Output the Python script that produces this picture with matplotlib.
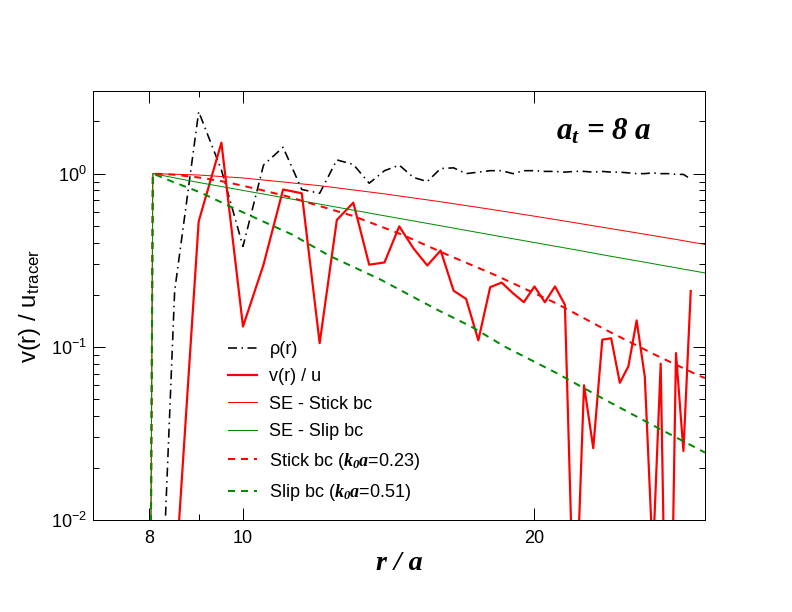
import numpy as np
import matplotlib
matplotlib.use('Agg')
from matplotlib import pyplot as plt
from matplotlib.ticker import FixedLocator, FixedFormatter, NullFormatter, LogLocator

plt.rcParams['font.family'] = ['Liberation Sans', 'DejaVu Sans']
plt.rcParams['mathtext.fontset'] = 'custom'
plt.rcParams['mathtext.it'] = 'Liberation Serif:italic:bold'
plt.rcParams['mathtext.rm'] = 'Liberation Serif:italic:bold'
plt.rcParams['mathtext.bf'] = 'Liberation Serif:bold'
plt.rcParams['lines.scale_dashes'] = False

# simulation data, r / a
r = [8.0, 8.5, 9.0, 9.5, 10.0, 10.5, 11.0, 11.5, 12.0, 12.5, 13.0, 13.5, 14.0, 14.5,
     15.0, 15.5, 16.0, 16.5, 17.0, 17.5, 18.0, 18.5, 19.0, 19.5, 20.0, 20.5, 21.0,
     21.5, 22.0, 22.5, 23.0, 23.5, 24.0, 24.5, 25.0, 25.5, 26.0, 26.5, 27.0, 27.5,
     28.0, 28.5, 29.0]
rho = [5e-5, 0.21, 2.28, 1.05, 0.38, 1.12, 1.42, 0.81, 0.77, 1.20, 1.13, 0.88, 1.04, 1.12,
       0.95, 0.90, 1.07, 1.08, 1.00, 1.02, 1.04, 1.04, 1.00, 1.04, 1.04, 1.03, 1.03,
       1.02, 1.03, 1.03, 1.02, 1.03, 1.02, 1.02, 1.01, 1.00, 1.00, 1.01, 1.00, 1.00,
       0.99, 0.99, 0.93]
v_u = [1e-4, 0.004, 0.53, 1.51, 0.131, 0.298, 0.81, 0.77, 0.105, 0.54, 0.68, 0.298, 0.307, 0.496,
       0.37, 0.295, 0.36, 0.211, 0.189, 0.109, 0.221, 0.235, 0.204, 0.181, 0.223, 0.181, 0.223,
       0.175, 0.0018, 0.060, 0.026, 0.11, 0.112, 0.062, 0.077, 0.142, 0.067, 0.006, 0.08, 0.0002,
       0.092, 0.025, 0.21]

# Stokes-Einstein curves
r_se = [8.0, 8.07, 9, 10, 12, 14, 16, 18, 20, 22, 24, 26, 28, 30]
se_stick = [1e-4, 1.0, 0.982, 0.944, 0.852, 0.764, 0.688, 0.623, 0.568, 0.521, 0.481, 0.447, 0.417, 0.39]
se_slip = [1e-4, 1.0, 0.889, 0.8, 0.667, 0.571, 0.5, 0.444, 0.4, 0.364, 0.333, 0.308, 0.286, 0.267]

# screened fits
r_stick = [8.0, 8.07, 8.47, 9.03, 9.62, 10.43, 11.1, 13.0, 14.59, 16.24, 18.15, 21.03, 23.65, 26.64, 29.6, 30]
fit_stick = [1e-4, 1.0, 0.987, 0.948, 0.893, 0.806, 0.74, 0.569, 0.445, 0.341, 0.262, 0.179, 0.126, 0.090, 0.068, 0.066]
r_slip = [8.0, 8.07, 8.45, 9.03, 9.62, 10.58, 11.23, 12.3, 13.86, 15.86, 17.2, 18.65, 21.03, 23.65, 26.64, 29.6, 30]
fit_slip = [1e-4, 1.0, 0.90, 0.78, 0.66, 0.518, 0.446, 0.334, 0.245, 0.164, 0.131, 0.10, 0.071, 0.0495, 0.0347, 0.0255, 0.0245]

red = '#ff0000'
green = '#008c00'

fig = plt.figure(figsize=(11, 8.5), dpi=72)
ax = fig.add_axes([93/792, 92/612, 612/792, 429/612])

ax.plot(r, rho, color='black', lw=1.6, dashes=(9, 4.5, 1.5, 4.5), label='ρ(r)')
ax.plot(r, v_u, color=red, lw=2.2, label='v(r) / u')
ax.plot(r_se, se_stick, color=red, lw=1.0, label='SE - Stick bc')
ax.plot(r_se, se_slip, color=green, lw=1.0, label='SE - Slip bc')
ax.plot(r_stick, fit_stick, color=red, lw=2.0, dashes=(7, 6),
        label=r'Stick bc ($k_0a$=0.23)')
ax.plot(r_slip, fit_slip, color=green, lw=2.0, dashes=(7, 6),
        label=r'Slip bc ($k_0a$=0.51)')

ax.set_xscale('log')
ax.set_yscale('log')
ax.set_xlim(7, 30)
ax.set_ylim(0.01, 3)

ax.xaxis.set_major_locator(FixedLocator([8, 10, 20]))
ax.xaxis.set_major_formatter(FixedFormatter(['8', '10', '20']))
ax.xaxis.set_minor_locator(FixedLocator([9]))
ax.xaxis.set_minor_formatter(NullFormatter())
ax.yaxis.set_major_locator(LogLocator(base=10, numticks=10))
ax.yaxis.set_minor_locator(LogLocator(base=10, subs=np.arange(2, 10), numticks=20))
ax.yaxis.set_minor_formatter(NullFormatter())

ax.tick_params(which='both', direction='in', top=True, right=True, width=1, labelsize=18)
ax.tick_params(which='major', length=12)
ax.tick_params(which='minor', length=6)
ax.tick_params(axis='x', pad=10)
ax.tick_params(axis='y', pad=6)
for s in ax.spines.values():
    s.set_linewidth(1.0)

ax.set_xlabel('r / a', fontsize=28, fontfamily='Liberation Serif', fontweight='bold',
              fontstyle='italic', labelpad=4)
ax.set_ylabel(r'v(r) / u$_{\mathdefault{tracer}}$', fontsize=24, labelpad=8)

ax.text(0.835, 0.905, r'$a_t$ = 8 $a$', transform=ax.transAxes, ha='center', va='center',
        fontsize=31, fontfamily='Liberation Serif', fontweight='bold', fontstyle='italic')

ax.legend(loc='lower left', bbox_to_anchor=(0.2, 0.01), frameon=False, fontsize=18,
          handlelength=1.6, handletextpad=0.7, labelspacing=0.58, borderpad=0.2)

plt.savefig('out.png', dpi=72)
